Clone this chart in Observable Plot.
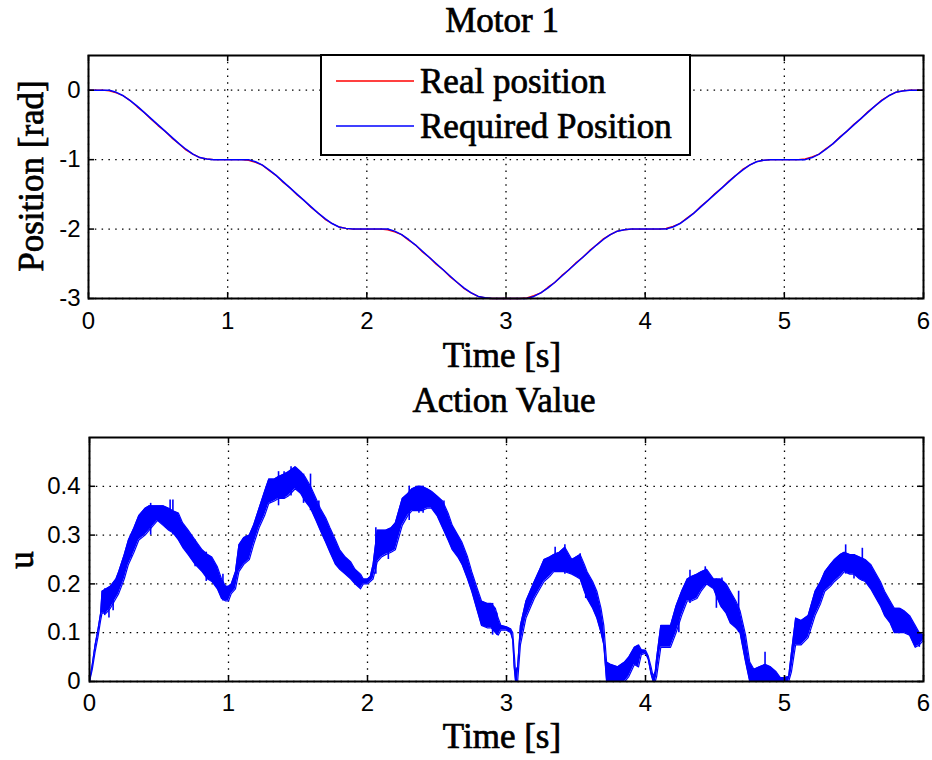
<!DOCTYPE html>
<html><head><meta charset="utf-8">
<script src="https://cdn.jsdelivr.net/npm/d3@7"></script>
<script src="https://cdn.jsdelivr.net/npm/@observablehq/plot@0.6"></script>
<style>
body{margin:0;background:#fff;}
#wrap{position:relative;width:932px;height:760px;background:#fff;overflow:hidden;}
.panel{position:absolute;left:0;}
.panel svg{display:block;}
#overlay{position:absolute;left:0;top:0;pointer-events:none;}
</style></head><body><div id="wrap"></div>
<script>
// ---------- data: Motor 1 position ----------
const posTime = [0,0.05,0.1,0.15,0.2,0.25,0.3,0.35,0.4,0.45,0.5,0.55,0.6,0.65,0.7,0.75,0.8,0.85,0.9,0.95,
 1,1.05,1.1,1.15,1.2,1.25,1.3,1.35,1.4,1.45,1.5,1.55,1.6,1.65,1.7,1.75,1.8,1.85,1.9,1.95,
 2,2.05,2.1,2.15,2.2,2.25,2.3,2.35,2.4,2.45,2.5,2.55,2.6,2.65,2.7,2.75,2.8,2.85,2.9,2.95,
 3,3.05,3.1,3.15,3.2,3.25,3.3,3.35,3.4,3.45,3.5,3.55,3.6,3.65,3.7,3.75,3.8,3.85,3.9,3.95,
 4,4.05,4.1,4.15,4.2,4.25,4.3,4.35,4.4,4.45,4.5,4.55,4.6,4.65,4.7,4.75,4.8,4.85,4.9,4.95,
 5,5.05,5.1,5.15,5.2,5.25,5.3,5.35,5.4,5.45,5.5,5.55,5.6,5.65,5.7,5.75,5.8,5.85,5.9,5.95,6];
const requiredPosition = [0,0,0,0,-0.03,-0.08,-0.15,-0.23,-0.32,-0.41,-0.5,-0.59,-0.68,-0.77,-0.85,-0.92,-0.97,-0.99,-1,-1,
 -1,-1,-1,-1,-1.03,-1.08,-1.15,-1.23,-1.32,-1.41,-1.5,-1.59,-1.68,-1.77,-1.85,-1.92,-1.97,-1.99,-2,-2,
 -2,-2,-2,-2,-2.03,-2.08,-2.15,-2.23,-2.32,-2.41,-2.5,-2.59,-2.68,-2.77,-2.85,-2.92,-2.97,-2.99,-3,-3,
 -3,-3,-3,-3,-2.97,-2.92,-2.85,-2.77,-2.68,-2.59,-2.5,-2.41,-2.32,-2.23,-2.15,-2.08,-2.03,-2.01,-2,-2,
 -2,-2,-2,-2,-1.97,-1.92,-1.85,-1.77,-1.68,-1.59,-1.5,-1.41,-1.32,-1.23,-1.15,-1.08,-1.03,-1.01,-1,-1,
 -1,-1,-1,-1,-0.97,-0.92,-0.85,-0.77,-0.68,-0.59,-0.5,-0.41,-0.32,-0.23,-0.15,-0.08,-0.03,-0.01,0,0,0];
const realPosition = [0,0,0,-0.01,-0.04,-0.08,-0.15,-0.24,-0.32,-0.42,-0.51,-0.59,-0.69,-0.77,-0.86,-0.92,-0.97,-0.99,-1,-1,
 -1,-1,-1,-1.01,-1.04,-1.08,-1.16,-1.23,-1.33,-1.41,-1.51,-1.59,-1.69,-1.77,-1.86,-1.92,-1.97,-1.99,-2,-2,
 -2,-2,-2,-2.01,-2.04,-2.08,-2.16,-2.23,-2.33,-2.41,-2.51,-2.59,-2.69,-2.77,-2.86,-2.92,-2.97,-2.99,-3,-3,
 -3,-3,-3,-2.99,-2.96,-2.92,-2.84,-2.77,-2.67,-2.59,-2.49,-2.41,-2.31,-2.23,-2.14,-2.08,-2.03,-2.01,-2,-2,
 -2,-2,-2,-1.99,-1.96,-1.92,-1.84,-1.77,-1.67,-1.59,-1.49,-1.41,-1.31,-1.23,-1.14,-1.08,-1.03,-1.01,-1,-1,
 -1,-1,-1,-0.99,-0.96,-0.92,-0.84,-0.77,-0.67,-0.59,-0.49,-0.41,-0.31,-0.23,-0.14,-0.08,-0.03,-0.01,0,0,0];
const posTicks = [-3,-2,-1,0];
const timeTicks = [0,1,2,3,4,5,6];

// ---------- data: Action Value u (noise band: lower / upper edge) ----------
const uTime = [0,0.02,0.04,0.06,0.08,0.09,0.12,0.15,0.19,0.21,0.25,0.28,0.32,0.355,0.4,0.43,0.49,0.53,0.57,0.6,0.64,0.67,0.71,0.76,0.81,0.85,0.88,0.92,0.95,0.98,
 1,1.02,1.05,1.075,1.11,1.15,1.18,1.22,1.26,1.29,1.33,1.36,1.4,1.43,1.48,1.52,1.55,1.59,1.63,1.66,1.7,1.73,1.77,1.8,1.84,1.88,1.91,1.95,1.97,
 2,2.02,2.04,2.07,2.1,2.13,2.17,2.2,2.25,2.29,2.32,2.36,2.39,2.43,2.46,2.5,2.54,2.58,2.61,2.65,2.68,2.72,2.75,2.79,2.82,2.86,2.89,2.92,2.94,2.96,
 3,3.03,3.045,3.055,3.065,3.08,3.1,3.14,3.17,3.2,3.24,3.27,3.31,3.34,3.38,3.42,3.47,3.5,3.53,3.56,3.58,3.62,3.65,3.68,3.7,3.72,3.75,3.8,3.85,3.88,3.92,3.95,3.97,
 4,4.02,4.04,4.055,4.07,4.08,4.11,4.15,4.18,4.22,4.26,4.3,4.33,4.37,4.4,4.44,4.49,4.51,4.54,4.58,4.61,4.65,4.68,4.7,4.72,4.75,4.78,4.82,4.86,4.9,4.94,4.97,
 5,5.03,5.05,5.08,5.12,5.17,5.22,5.26,5.29,5.33,5.36,5.4,5.43,5.47,5.5,5.54,5.58,5.62,5.65,5.69,5.72,5.76,5.79,5.83,5.86,5.9,5.94,5.97,6];
const uLow = [0,0.025,0.06,0.09,0.125,0.14,0.14,0.15,0.17,0.18,0.21,0.24,0.265,0.29,0.3,0.31,0.33,0.32,0.31,0.305,0.29,0.275,0.26,0.24,0.225,0.21,0.205,0.19,0.17,0.165,
 0.165,0.18,0.19,0.225,0.24,0.25,0.28,0.315,0.34,0.365,0.37,0.375,0.375,0.38,0.395,0.385,0.37,0.355,0.33,0.31,0.285,0.265,0.24,0.23,0.22,0.21,0.2,0.19,0.2,
 0.2,0.205,0.21,0.245,0.255,0.26,0.265,0.27,0.32,0.34,0.35,0.35,0.35,0.355,0.355,0.34,0.315,0.29,0.27,0.255,0.24,0.21,0.185,0.145,0.115,0.11,0.11,0.1,0.095,0.105,
 0.105,0.1,0.085,0.03,0,0,0.075,0.13,0.15,0.17,0.19,0.205,0.215,0.225,0.225,0.225,0.22,0.215,0.21,0.185,0.17,0.15,0.13,0.1,0.075,0,0,0,0,0.01,0.035,0.03,0.055,
 0.058,0.045,0.015,0,0,0.01,0.07,0.07,0.07,0.1,0.135,0.165,0.165,0.17,0.185,0.2,0.19,0.175,0.155,0.14,0.12,0.11,0.1,0.07,0.04,0,0,0,0,0,0,0,
 0,0,0.02,0.075,0.075,0.09,0.135,0.16,0.185,0.195,0.205,0.215,0.225,0.22,0.22,0.21,0.205,0.19,0.175,0.155,0.135,0.12,0.1,0.1,0.1,0.095,0.07,0.075,0.085];
const uHigh = [0,0.035,0.075,0.105,0.14,0.185,0.19,0.195,0.21,0.225,0.26,0.29,0.315,0.34,0.355,0.36,0.36,0.36,0.355,0.35,0.345,0.325,0.31,0.29,0.27,0.26,0.255,0.235,0.21,0.195,
 0.195,0.2,0.225,0.28,0.295,0.3,0.32,0.355,0.39,0.415,0.415,0.42,0.425,0.43,0.44,0.43,0.42,0.4,0.375,0.355,0.335,0.315,0.29,0.27,0.255,0.245,0.23,0.22,0.21,
 0.21,0.215,0.24,0.31,0.31,0.31,0.315,0.325,0.375,0.385,0.395,0.4,0.4,0.395,0.39,0.38,0.37,0.345,0.32,0.3,0.285,0.255,0.225,0.19,0.165,0.16,0.16,0.15,0.13,0.115,
 0.112,0.108,0.1,0.06,0.02,0.03,0.115,0.165,0.185,0.205,0.23,0.25,0.255,0.26,0.265,0.275,0.25,0.255,0.26,0.24,0.225,0.205,0.185,0.15,0.115,0.04,0.035,0.03,0.04,0.05,0.07,0.075,0.065,
 0.064,0.052,0.03,0.01,0.02,0.048,0.115,0.115,0.115,0.155,0.185,0.21,0.215,0.22,0.225,0.23,0.21,0.21,0.21,0.2,0.185,0.165,0.145,0.12,0.095,0.04,0.025,0.03,0.035,0.03,0.02,0.008,
 0.008,0.01,0.06,0.13,0.125,0.135,0.185,0.205,0.225,0.24,0.25,0.26,0.265,0.26,0.26,0.255,0.25,0.24,0.225,0.205,0.185,0.165,0.15,0.15,0.145,0.135,0.115,0.1,0.095];
// individual noise spikes
const spikeTime = [0.11,0.14,0.17,0.3,0.44,0.58,0.6,0.76,0.84,0.96,1.36,1.4,1.45,1.54,1.59,1.65,2.06,2.15,2.3,2.37,2.4,2.55,2.9,2.93,3.35,3.42,3.53,3.57,4.24,4.32,4.43,4.51,4.55,4.67,4.86,5.44,5.5,5.56,5.97];
const spikeLow = [0.135,0.13,0.145,0.255,0.3,0.31,0.3,0.235,0.205,0.165,0.36,0.375,0.38,0.365,0.35,0.32,0.22,0.25,0.33,0.345,0.345,0.31,0.095,0.095,0.225,0.22,0.21,0.17,0.1,0.16,0.195,0.15,0.15,0.1,0,0.22,0.21,0.205,0.07];
const spikeHigh = [0.19,0.185,0.2,0.3,0.365,0.372,0.372,0.29,0.265,0.22,0.43,0.43,0.44,0.425,0.425,0.37,0.315,0.31,0.4,0.4,0.4,0.37,0.16,0.14,0.275,0.28,0.262,0.225,0.16,0.228,0.235,0.21,0.212,0.185,0.06,0.28,0.26,0.273,0.1];
const uTicks = [0,0.1,0.2,0.3,0.4];

// ---------- build tables ----------
const posData = posTime.map((t,i)=>({t, req: requiredPosition[i], real: realPosition[i]}));
const uData = uTime.map((t,i)=>({t, lo: uLow[i], hi: uHigh[i]}));
const spikes = spikeTime.map((t,i)=>({t, lo: spikeLow[i], hi: spikeHigh[i]}));

const W = 932, PH = 380;
const fmt = d => String(d);
const tickStyle = {fontFamily:"'Liberation Sans', Arial, sans-serif", fontSize:"24px", background:"transparent", color:"#000", overflow:"visible"};
const BLUE = "#0000ff", RED = "#ff0000";
const grid = {stroke:"#000", strokeOpacity:1, strokeWidth:1.3, strokeDasharray:"1.5,5.3"};
const TL = 6;

function framed(innerW, innerH, xT, yT){
  return [
    Plot.ruleX(xT, {stroke:"#000", strokeWidth:1.5, insetTop: innerH - TL}),
    Plot.ruleX(xT, {stroke:"#000", strokeWidth:1.5, insetBottom: innerH - TL}),
    Plot.ruleY(yT, {stroke:"#000", strokeWidth:1.5, insetRight: innerW - TL}),
    Plot.ruleY(yT, {stroke:"#000", strokeWidth:1.5, insetLeft: innerW - TL}),
    Plot.frame({stroke:"#000", strokeWidth:2})
  ];
}

// top panel
const m1 = {t:55, b:82, l:88, r:9};
const topPlot = Plot.plot({
  width: W, height: PH,
  marginTop: m1.t, marginBottom: m1.b, marginLeft: m1.l, marginRight: m1.r,
  x: {domain:[0,6]}, y: {domain:[-3,0.5]},
  style: tickStyle,
  marks: [
    Plot.ruleX(timeTicks, grid),
    Plot.ruleY(posTicks, grid),
    Plot.line(posData, {x:"t", y:"real", stroke:RED, strokeWidth:1.3}),
    Plot.line(posData, {x:"t", y:"req", stroke:BLUE, strokeWidth:1.5}),
    Plot.axisX(timeTicks, {anchor:"bottom", tickSize:0, tickPadding:13, tickFormat:fmt, label:null}),
    Plot.axisY(posTicks, {anchor:"left", tickSize:0, tickPadding:8, tickFormat:fmt, label:null}),
    ...framed(W-m1.l-m1.r, PH-m1.t-m1.b, timeTicks, posTicks)
  ]
});

// bottom panel
const m2 = {t:57, b:79, l:89, r:9};
const botPlot = Plot.plot({
  width: W, height: PH,
  marginTop: m2.t, marginBottom: m2.b, marginLeft: m2.l, marginRight: m2.r,
  x: {domain:[0,6]}, y: {domain:[0,0.5]},
  style: tickStyle,
  marks: [
    Plot.ruleX(timeTicks, grid),
    Plot.ruleY(uTicks, grid),
    Plot.areaY(uData, {x:"t", y1:"lo", y2:"hi", fill:BLUE}),
    Plot.line(uData, {x:"t", y:"lo", stroke:BLUE, strokeWidth:1.2}),
    Plot.line(uData, {x:"t", y:"hi", stroke:BLUE, strokeWidth:1.2}),
    Plot.ruleX(spikes, {x:"t", y1:"lo", y2:"hi", stroke:BLUE, strokeWidth:1.6}),
    Plot.axisX(timeTicks, {anchor:"bottom", tickSize:0, tickPadding:12, tickFormat:fmt, label:null}),
    Plot.axisY(uTicks, {anchor:"left", tickSize:0, tickPadding:9, tickFormat:fmt, label:null}),
    ...framed(W-m2.l-m2.r, PH-m2.t-m2.b, timeTicks, uTicks)
  ]
});

const wrap = document.getElementById("wrap");
const p1 = document.createElement("div"); p1.className="panel"; p1.style.top="0px"; p1.appendChild(topPlot); wrap.appendChild(p1);
const p2 = document.createElement("div"); p2.className="panel"; p2.style.top="380px"; p2.appendChild(botPlot); wrap.appendChild(p2);

// titles, axis labels, legend
const ov = d3.select(wrap).append("svg").attr("id","overlay").attr("width",W).attr("height",760);
const serif = "'Liberation Serif','Times New Roman',serif";
function serifText(sel){
  return sel.attr("font-family",serif).attr("font-size",35).attr("font-weight","normal")
    .attr("fill","#000").attr("stroke","#000").attr("stroke-width",0.7);
}
function label(x, y, s, rot){
  const t = serifText(ov.append("text").attr("text-anchor","middle")).text(s);
  if (rot) t.attr("transform",`translate(${x},${y}) rotate(-90)`); else t.attr("x",x).attr("y",y);
}
label(502, 32, "Motor 1");
label(502, 367, "Time [s]");
label(43, 176, "Position [rad]", true);
label(504, 412, "Action Value");
label(502, 748, "Time [s]");
label(33, 560, "u", true);

const lg = ov.append("g");
lg.append("rect").attr("x",321).attr("y",55).attr("width",369).attr("height",100).attr("fill","#fff").attr("stroke","#000").attr("stroke-width",2);
const legendItems = [["Real position", RED, 81],["Required Position", BLUE, 126]];
legendItems.forEach(([name,color,yy])=>{
  lg.append("line").attr("x1",336).attr("x2",414).attr("y1",yy).attr("y2",yy).attr("stroke",color).attr("stroke-width",1.5);
  serifText(lg.append("text").attr("x",420).attr("y",yy+12)).text(name);
});
</script></body></html>
